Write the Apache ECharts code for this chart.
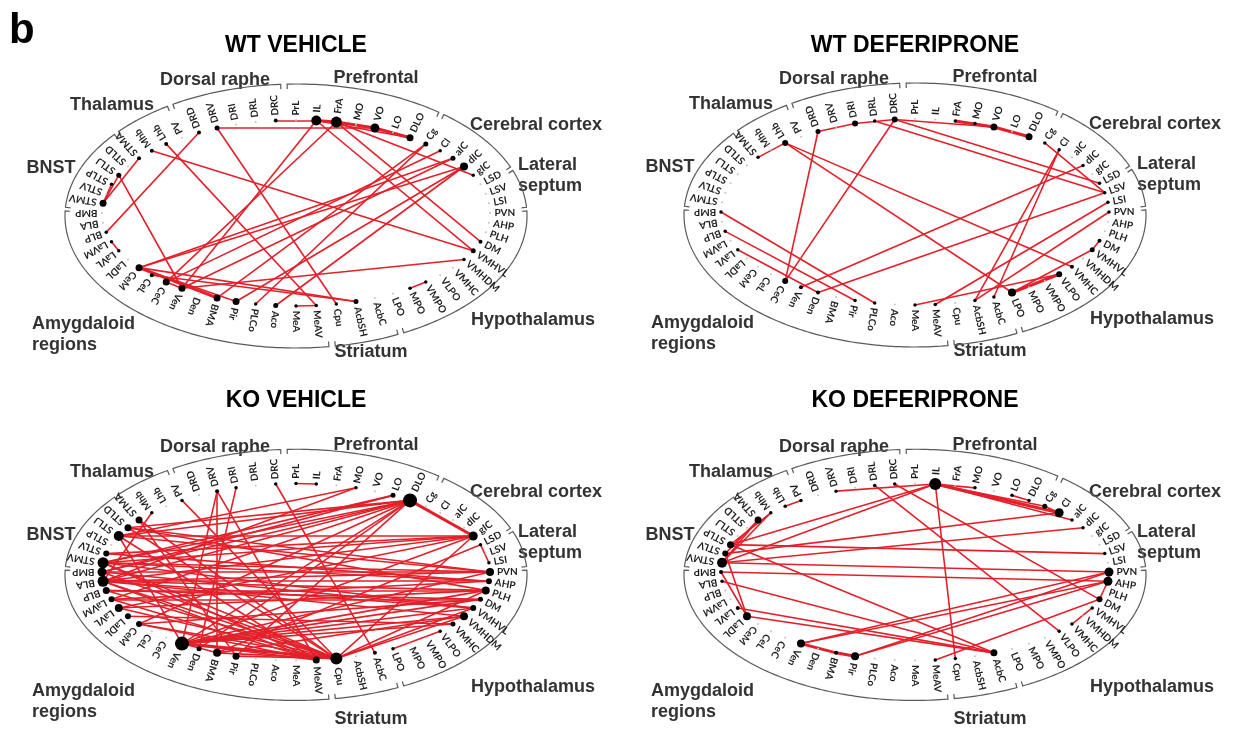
<!DOCTYPE html>
<html>
<head>
<meta charset="utf-8">
<script src="https://cdn.jsdelivr.net/npm/echarts@6/dist/echarts.min.js"></script>
<style>
  html, body { margin: 0; padding: 0; background: #fff; }
  #chart { width: 1235px; height: 729px; }
</style>
</head>
<body>
<div id="chart"></div>
<script>
// Brain regions, clockwise from the top of each ring
const regions = [
  'PrL','IL','FrA','MO','VO','LO','DLO',
  'Cg','Cl','aIC','dIC','gIC',
  'LSD','LSV','LSI',
  'PVN','AHP','PLH','DM','VMHVL','VMHDM','VMHC','VLPO','VMPO','MPO','LPO',
  'AcbC','AcbSH','Cpu',
  'MeAV','MeA','Aco','PLCo','Pir','BMA','Den','Ven','CeC','CeL','CeM','LaDL','LaVL','LaVM','BLP','BLA','BMP',
  'STMV','STLV','STLP','STLJ','STLD','STMA',
  'Mhb','Lhb','PV',
  'DRD','DRV','DRI','DRL','DRC'
];

// Anatomical groups: [label, first region, last region]
const groups = [
  ['Prefrontal', 'PrL', 'DLO'],
  ['Cerebral cortex', 'Cg', 'gIC'],
  ['Lateral\nseptum', 'LSD', 'LSI'],
  ['Hypothalamus', 'PVN', 'LPO'],
  ['Striatum', 'AcbC', 'Cpu'],
  ['Amygdaloid\nregions', 'MeAV', 'BMP'],
  ['BNST', 'STMV', 'STMA'],
  ['Thalamus', 'Mhb', 'PV'],
  ['Dorsal raphe', 'DRD', 'DRC']
];

const panelTitles = ['WT VEHICLE', 'WT DEFERIPRONE', 'KO VEHICLE', 'KO DEFERIPRONE'];

// Significant correlations: [region, region, strength class (2 = strong)]
const wtVehicleEdges = [
  ['DRC','IL'],['DRV','VO'],['IL','FrA',2],['FrA','VO',2],['VO','DLO',2],['IL','DLO'],['FrA','gIC'],
  ['IL','Ven'],['FrA','CeC'],['IL','VMHVL'],['FrA','DM'],['Mhb','VMHVL'],['Lhb','MeAV'],['DRV','Cpu'],
  ['Cg','BMA'],['Cl','CeC'],['aIC','CeM'],['aIC','Ven'],['dIC','CeM'],['dIC','Pir'],['dIC','Aco'],['Cg','PLCo'],
  ['CeM','BMA',2],['CeC','Ven'],['CeM','Pir'],['CeM','AcbSH'],['CeL','AcbSH'],['Ven','VMHDM'],
  ['MeA','MeAV'],['LaVL','LaVM'],['MPO','VMPO'],['BLP','DRD'],['STMV','STMA'],['STMV','STLJ'],['STLJ','Ven'],['STLP','STMV']
];
const wtDeferipEdges = [
  ['Lhb','STMA'],['Lhb','VMHC'],['Lhb','LPO'],['DRD','DRI'],['DRI','DRC'],['DRD','CeC'],['DRC','CeC'],
  ['DRC','VO'],['DRC','LSD'],['DRL','LSV'],['FrA','VO',2],['VO','DLO',2],['MO','VO'],['Cg','LSV'],['Cl','AcbSH'],
  ['dIC','Ven'],['LSV','Den'],['LSI','MeAV'],['PVN','AcbSH'],['DM','VMHVL'],['VMHVL','LPO'],['VLPO','LPO',2],
  ['MeA','VLPO'],['BMP','PLCo'],['BLP','Pir'],['LaVL','Den'],['Cl','AcbC']
];
const koVehicleEdges = [
  ['DLO','STLJ'],['DLO','STMV'],['DLO','BMP'],['DLO','BLA'],['DLO','STLD'],['DLO','LaVM'],['DLO','Ven'],['DLO','CeM'],
  ['DLO','gIC',2],['DLO','Pir'],['DLO','Den'],
  ['gIC','STLJ'],['gIC','STMV'],['gIC','BLA'],['gIC','STLV'],['gIC','LaVL'],['gIC','Ven'],['gIC','Cpu'],
  ['PVN','STLJ'],['PVN','STMV'],['PVN','BMP'],['PVN','BLA'],['PVN','Ven'],['PVN','STLD'],
  ['AHP','BLA'],['AHP','STMV'],['AHP','LaVM'],['AHP','STLV'],
  ['PLH','STLD'],['PLH','BLA'],['PLH','LaVL'],['PLH','Ven'],['PLH','Cpu'],['PLH','BLP'],
  ['DM','BLP'],['DM','CeM'],['DM','Ven'],['DM','LaVM'],
  ['VMHVL','STMV'],['VMHVL','BLA'],['VMHVL','Ven'],['VMHVL','Cpu'],['VMHVL','BMP'],
  ['VMHDM','Ven'],['VMHDM','BMA'],['VMHDM','BLA'],['VMHDM','Cpu'],
  ['VMHC','LaDL'],['VMHC','Ven'],
  ['MO','STLJ'],['MO','BLA'],['LO','STMV'],['LO','BMP'],
  ['LSD','LSI'],['LSD','BMA'],['LPO','VLPO'],['PrL','IL'],['DRC','AcbC'],
  ['DRV','Ven'],['DRV','BMA'],['DRV','MeAV'],['DRI','Den'],['PV','Cpu'],['Mhb','BLA'],
  ['STMA','Cpu'],['STMA','Pir'],['STLD','Cpu'],['STLJ','Ven'],['STLJ','MeAV'],['STMV','Cpu'],['STMV','MeAV'],
  ['BLA','Cpu'],['BLA','MeAV'],['BMP','Cpu'],['BLP','Cpu'],['LaVL','Cpu'],['CeM','Cpu'],['CeM','MeAV'],
  ['Ven','Cpu',2],['Ven','MeAV'],['Ven','BMA'],['BMA','Cpu'],['Pir','Cpu'],['LaVM','MeAV']
];
const koDeferipEdges = [
  ['DRV','IL'],['IL','MO'],['IL','Cg'],['IL','Cl',2],['IL','aIC'],['IL','STLP'],['IL','STMV'],['IL','Cpu'],
  ['DRL','VLPO'],['DRC','DM'],['LO','DLO'],['Cg','Cl'],['Cl','STLV'],['dIC','STMV'],['LSV','STLP'],
  ['STMV','PVN'],['BMP','AHP'],['BLA','AcbC'],['STLP','AcbC'],['LaDL','AcbC'],['LaVL','AcbC'],['STLV','LaDL'],
  ['STMA','STLV'],['STMA','STMV'],['Mhb','STLP'],['Lhb','PV'],['Ven','BMA',2],['BMA','Pir',2],['Ven','PVN'],
  ['Ven','AHP'],['Pir','PVN'],['Pir','AHP'],['MeAV','DM'],['VMHC','VMHVL'],['PVN','AHP'],['AHP','DM'],
  ['BMP','LaDL'],['Mhb','STMV']
];

// Node dot sizes for the more strongly connected regions
const wtVehicleSizes = {IL:10,FrA:11,VO:9,DLO:7,dIC:8,aIC:5,Cg:5,STMV:7,STLJ:5,CeM:7,CeC:7,Ven:7,BMA:7,Pir:7,
  Aco:5,AcbSH:5,VMHVL:5,DRV:5,DRC:4,DRD:4,Lhb:4,Mhb:4,STMA:4,CeL:4,DM:4};
const wtDeferipSizes = {DRD:5,DRI:6,DRC:6,Lhb:6,VO:7,DLO:7,CeC:6,Ven:4,Den:4,LPO:8,VLPO:6,VMHVL:5,DM:4,VMHC:4};
const koVehicleSizes = {DLO:14,Ven:14,Cpu:12,STMV:11,BLA:11,STLJ:10,BMP:9,gIC:9,PVN:8,PLH:8,VMHDM:8,BMA:8,LaVL:8,
  STMA:7,STLD:7,BLP:7,Pir:7,MeAV:7,STLV:6,LaVM:6,LaDL:6,CeM:6,AHP:6,VMHVL:6,LO:5,Den:5,PLCo:5,DM:5,VMHC:5,DRV:4,AcbC:4};
const koDeferipSizes = {IL:12,STMV:10,Cl:9,PVN:9,AHP:9,Pir:8,Ven:8,LaDL:8,STLP:7,STMA:7,AcbC:7,DM:6,STLV:6,Cg:5,BMA:4,LaVL:4,BMP:4};

const panelEdges = [wtVehicleEdges, wtDeferipEdges, koVehicleEdges, koDeferipEdges];
const panelSizes = [wtVehicleSizes, wtDeferipSizes, koVehicleSizes, koDeferipSizes];

// ---- layout ----
const centers = [[296, 213], [915, 212], [296, 580], [915, 580]];
const titleY = [46, 46, 401, 401];
const RX = 194, RY = 93;              // ring of nodes
const BX = 231, BY = 132, BOFF = -3;  // ring of group brackets
const HALF_W = 262, HALF_H = 165;
const STEP = 360 / regions.length;
const RED = '#e3202a';

const groupLabelPos = {
  'Prefrontal':          {dx: 80,   dy: -135, align: 'center'},
  'Cerebral cortex':     {dx: 240,  dy: -88,  align: 'center'},
  'Lateral\nseptum':     {dx: 222,  dy: -37,  align: 'left'},
  'Hypothalamus':        {dx: 237,  dy: 107,  align: 'center'},
  'Striatum':            {dx: 75,   dy: 139,  align: 'center'},
  'Amygdaloid\nregions': {dx: -264, dy: 122,  align: 'left'},
  'BNST':                {dx: -245, dy: -45,  align: 'center'},
  'Thalamus':            {dx: -184, dy: -108, align: 'center'},
  'Dorsal raphe':        {dx: -81,  dy: -133, align: 'center'}
};

const rad = d => d * Math.PI / 180;
const angleOf = i => 90 - STEP * i;

function nodeData(edges, sizes) {
  const linked = {};
  edges.forEach(e => { linked[e[0]] = true; linked[e[1]] = true; });
  return regions.map((name, i) => {
    const t = rad(angleOf(i));
    const x = RX * Math.cos(t), y = RY * Math.sin(t);
    const nx = Math.cos(t) / RX, ny = Math.sin(t) / RY, nl = Math.hypot(nx, ny);
    const dx = 0.6 * nx / nl + 0.4 * Math.cos(t);
    const dy = 0.6 * ny / nl + 0.4 * Math.sin(t);
    const rot = Math.atan2(dy, dx) * 180 / Math.PI;
    const on = !!linked[name];
    const s = on ? (sizes[name] || 3.5) : 2;
    return {
      name, value: [x, y], symbolSize: s,
      itemStyle: {color: on ? '#000' : '#c4c4c4'},
      label: {rotate: rot, padding: [0, 0, 0, Math.max(s / 2, 1.5) + 3]}
    };
  });
}

function bracketData() {
  const hook = 5, gap = 0.8;
  return groups.map(g => {
    const s = regions.indexOf(g[1]), e = regions.indexOf(g[2]);
    const t0 = angleOf(s) + STEP / 2 - gap, t1 = angleOf(e) - STEP / 2 + gap;
    const pt = d => [BX * Math.cos(rad(d)), BY * Math.sin(rad(d)) + BOFF];
    const inward = d => {
      const nx = Math.cos(rad(d)) / BX, ny = Math.sin(rad(d)) / BY, l = Math.hypot(nx, ny);
      const p = pt(d);
      return [p[0] - hook * nx / l, p[1] - hook * ny / l];
    };
    const coords = [inward(t0)];
    for (let d = t0; d > t1; d -= 1) coords.push(pt(d));
    coords.push(pt(t1), inward(t1));
    return {coords};
  });
}

const grids = [], xAxes = [], yAxes = [], series = [], graphics = [];
centers.forEach((c, k) => {
  grids.push({left: c[0] - HALF_W, top: c[1] - HALF_H, width: 2 * HALF_W, height: 2 * HALF_H});
  xAxes.push({type: 'value', gridIndex: k, min: -HALF_W, max: HALF_W, show: false});
  yAxes.push({type: 'value', gridIndex: k, min: -HALF_H, max: HALF_H, show: false});

  series.push({
    type: 'lines', coordinateSystem: 'cartesian2d', xAxisIndex: k, yAxisIndex: k,
    polyline: true, silent: true, animation: false, z: 1,
    lineStyle: {color: '#5a5a5a', width: 1.2, opacity: 1},
    data: bracketData()
  });

  series.push({
    type: 'graph', coordinateSystem: 'cartesian2d', xAxisIndex: k, yAxisIndex: k,
    layout: 'none', silent: true, animation: false, z: 2, symbol: 'circle',
    data: nodeData(panelEdges[k], panelSizes[k]),
    links: panelEdges[k].map(e => ({source: e[0], target: e[1], lineStyle: {width: e[2] === 2 ? 3 : 1.6}})),
    lineStyle: {color: RED, opacity: 1, curveness: 0},
    label: {
      show: true, position: 'inside', align: 'left', verticalAlign: 'middle',
      fontFamily: 'Lato', fontWeight: 'bold', fontSize: 10, color: '#1e1e1e',
      formatter: p => p.name
    }
  });

  graphics.push({
    type: 'text', x: c[0], y: titleY[k],
    style: {
      text: panelTitles[k], align: 'center', verticalAlign: 'middle',
      font: 'bold 23px "Liberation Sans", Arial, sans-serif', fill: '#000'
    }
  });

  groups.forEach(g => {
    const p = groupLabelPos[g[0]];
    graphics.push({
      type: 'text', x: c[0] + p.dx, y: c[1] + p.dy,
      style: {
        text: g[0], align: p.align, verticalAlign: 'middle', lineHeight: 21,
        font: 'bold 18px "Liberation Sans", Arial, sans-serif', fill: '#333'
      }
    });
  });
});

graphics.push({
  type: 'text', x: 9, y: 10,
  style: {text: 'b', font: 'bold 42px "Liberation Sans", Arial, sans-serif', fill: '#000'}
});

const chart = echarts.init(document.getElementById('chart'), null, {renderer: 'canvas'});
chart.setOption({
  animation: false,
  backgroundColor: '#fff',
  grid: grids, xAxis: xAxes, yAxis: yAxes,
  series: series,
  graphic: graphics
});
</script>
</body>
</html>
